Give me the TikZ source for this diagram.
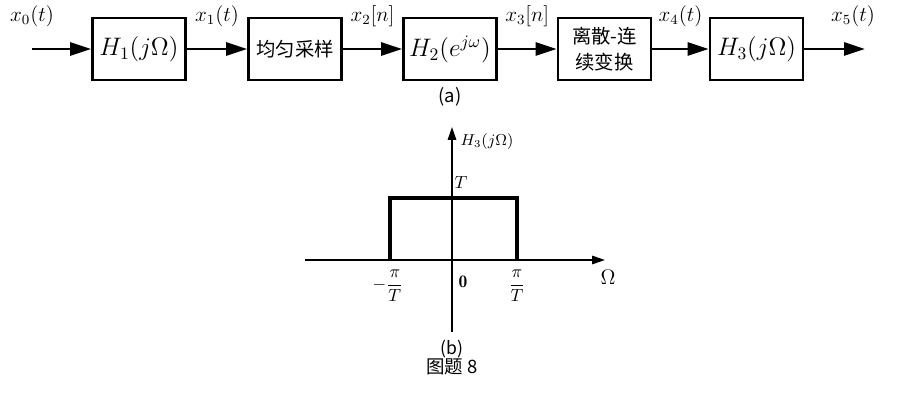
\documentclass[tikz,border=0pt]{standalone}
\usepackage{fontspec}
\usepackage{amsmath}
\newfontfamily\cjk{Noto Sans CJK SC}
\usetikzlibrary{arrows.meta}

\tikzset{
  blk/.style={draw, line width=1.6pt, minimum width=1.86cm, minimum height=1.24cm, inner sep=0pt, font=\Large},
  sig/.style={line width=1.6pt, -{Triangle[length=4.2mm,width=2.6mm]}},
  lbl/.style={above=12pt, font=\large, inner sep=0pt},
  axis/.style={line width=0.9pt, -{Triangle[length=2.6mm,width=1.7mm]}},
}

\begin{document}
\begin{tikzpicture}[x=0.02cm, y=-0.02cm]
	\useasboundingbox (0,0) rectangle (911,404);
	
	% schema a blocchi (a)
	\coordinate (in) at (32,49);
	\coordinate (out) at (865,49);
	\node[blk] (h1) at (139,49) {$H_1(j\Omega)$};
	\node[blk, font=\cjk\fontsize{11}{14}\selectfont] (samp) at (295,49) {均匀采样};
	\node[blk] (h2) at (450,49) {$H_2(e^{j\omega})$};
	\node[blk, font=\cjk\fontsize{11}{15}\selectfont, align=center] (dc) at (604.5,49) {离散-连\\续变换};
	\node[blk] (h3) at (756.5,49) {$H_3(j\Omega)$};
	
	\draw[sig] (in) -- (h1) node [at start, lbl] {$x_0(t)$};
	\draw[sig] (h1) -- (samp) node [midway, lbl] {$x_1(t)$};
	\draw[sig] (samp) -- (h2) node [midway, lbl] {$x_2[n]$};
	\draw[sig] (h2) -- (dc) node [midway, lbl] {$x_3[n]$};
	\draw[sig] (dc) -- (h3) node [midway, lbl] {$x_4(t)$};
	\draw[sig] (h3) -- (out) node [at end, lbl, xshift=-0.24cm] {$x_5(t)$};
	
	\node[font=\cjk\fontsize{10.5}{13}\selectfont] (capa) at (450,97) {(a)};
	
	% risposta in frequenza (b)
	\draw[axis] (305,260) -- (605,260);
	\draw[axis] (452,332) -- (452,127);
	\draw[line width=1.8pt] (390,260) -- (390,198) -- (517,198) -- (517,260);
	
	\node[font=\small] (hlab) at (487,142) {$H_3(j\Omega)$};
	\node (tlab) at (461,183) {$T$};
	\node (mpi) at (388,286) {$-\dfrac{\pi}{T}$};
	\node (ppi) at (517,286) {$\dfrac{\pi}{T}$};
	\node (zero) at (463,282) {$\mathbf{0}$};
	\node[font=\large] (omlab) at (608,277) {$\Omega$};
	
	\node[font=\cjk\fontsize{10}{12}\selectfont] (capb) at (452,349) {(b)};
	\node[font=\cjk\fontsize{10.5}{13}\selectfont] (fig) at (452,367) {图题 8};
\end{tikzpicture}
\end{document}
